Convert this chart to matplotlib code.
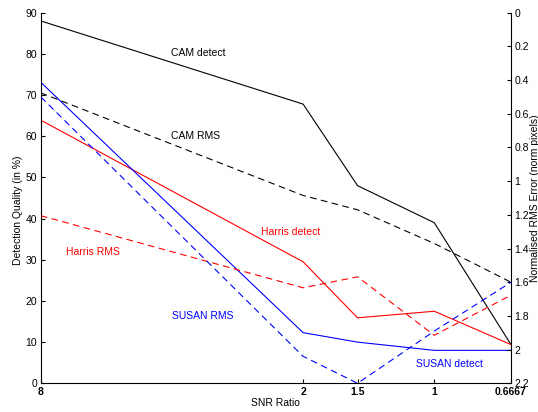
import matplotlib
matplotlib.use('Agg')
from matplotlib import pyplot as plt
from matplotlib.ticker import FixedLocator, NullLocator, FormatStrFormatter

plt.rcParams['font.family'] = ['Liberation Sans', 'DejaVu Sans']
plt.rcParams['font.size'] = 7.5

# SNR levels (x axis, log scale, decreasing)
snr = [8, 2, 1.5, 1, 0.6667]
snr_labels = ['8', '2', '1.5', '1', '0.6667']

# detection quality in % (left axis)
cam_detect = [88.0, 67.8, 48.0, 39.0, 9.4]
harris_detect = [63.9, 29.5, 15.9, 17.5, 9.4]
susan_detect = [73.1, 12.3, 10.0, 8.0, 8.0]

# normalised RMS error (right axis, inverted)
cam_rms = [0.476, 1.085, 1.17, 1.37, 1.60]
harris_rms = [1.205, 1.633, 1.568, 1.915, 1.677]
susan_rms = [0.50, 2.04, 2.2, 1.89, 1.60]

W, H = 538, 412
fig = plt.figure(figsize=(W/100, H/100), dpi=100)
ax = fig.add_axes([40.8/W, (H-383.3)/H, 470.2/W, 370.6/H])

ax.set_xscale('log')
ax.plot(snr, cam_detect, color='black', lw=0.8)
ax.plot(snr, harris_detect, color='red', lw=0.8)
ax.plot(snr, susan_detect, color='blue', lw=0.8)
ax.set_xlim(8, 0.6667)
ax.set_ylim(0, 90)
ax.xaxis.set_major_locator(FixedLocator(snr))
ax.xaxis.set_minor_locator(NullLocator())
ax.set_xticklabels(snr_labels, fontweight='bold')
ax.set_yticks(range(0, 91, 10))
ax.set_xlabel('SNR Ratio', labelpad=1)
ax.set_ylabel('Detection Quality (in %)')
ax.yaxis.set_label_coords(-0.038, 0.468)

ax2 = ax.twinx()
ax2.plot(snr, cam_rms, color='black', lw=0.8, dashes=(6, 4))
ax2.plot(snr, harris_rms, color='red', lw=0.8, dashes=(6, 4))
ax2.plot(snr, susan_rms, color='blue', lw=0.8, dashes=(6, 4))
ax2.set_ylim(2.2, 0)
ax2.set_yticks([i*0.2 for i in range(12)])
ax2.yaxis.set_major_formatter(FormatStrFormatter('%g'))
ax2.set_ylabel('Normalised RMS Error (norm pixels)', labelpad=1)

for a in (ax, ax2):
    a.spines['top'].set_visible(False)
    a.tick_params(direction='in', length=3, width=0.8, pad=2.5, colors='black')
    for s in a.spines.values():
        s.set_linewidth(0.8)
ax.spines['right'].set_visible(False)
ax2.spines['left'].set_visible(False)
ax2.spines['bottom'].set_visible(False)

# curve labels
ax.text(0.276, 0.890, 'CAM detect', transform=ax.transAxes, color='black', va='center')
ax.text(0.277, 0.667, 'CAM RMS', transform=ax.transAxes, color='black', va='center')
ax.text(0.468, 0.407, 'Harris detect', transform=ax.transAxes, color='red', va='center')
ax.text(0.054, 0.353, 'Harris RMS', transform=ax.transAxes, color='red', va='center')
ax.text(0.279, 0.181, 'SUSAN RMS', transform=ax.transAxes, color='blue', va='center')
ax.text(0.799, 0.052, 'SUSAN detect', transform=ax.transAxes, color='blue', va='center')

fig.savefig('out.png', dpi=100)
